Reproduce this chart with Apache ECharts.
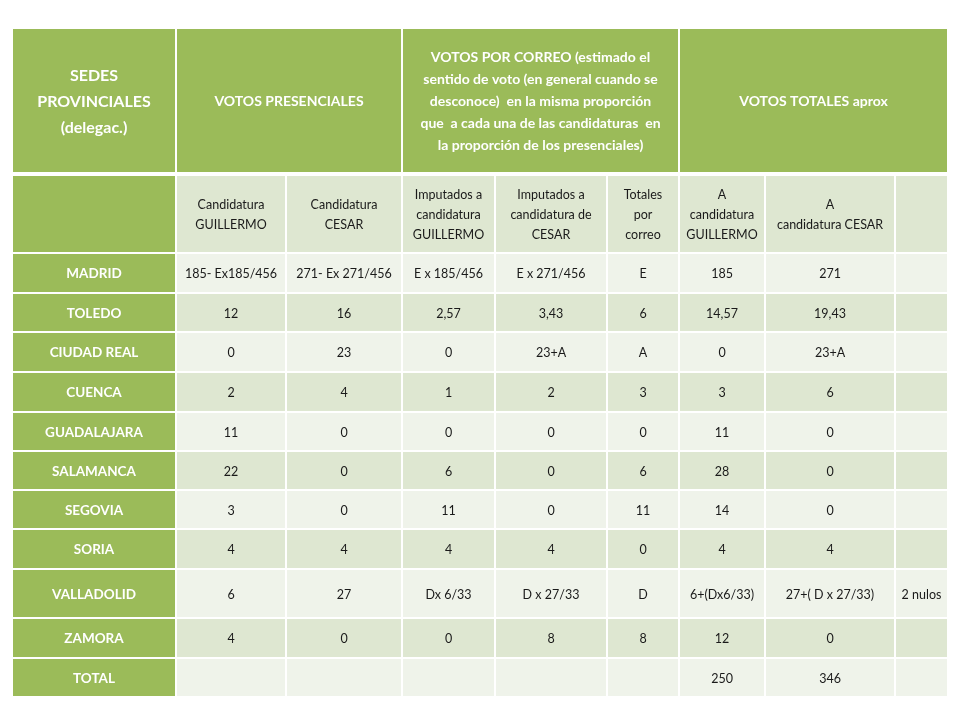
<!DOCTYPE html>
<html>
<head>
<meta charset="utf-8">
<title>Sedes provinciales</title>
<script src="https://cdn.jsdelivr.net/npm/echarts@6/dist/echarts.min.js"></script>
<style>
  html, body { margin: 0; padding: 0; background: #fff; }
  #chart { width: 960px; height: 720px; }
</style>
</head>
<body>
<div id="chart"></div>
<script>
// table contents
const provincias = ['MADRID', 'TOLEDO', 'CIUDAD REAL', 'CUENCA', 'GUADALAJARA', 'SALAMANCA',
  'SEGOVIA', 'SORIA', 'VALLADOLID', 'ZAMORA', 'TOTAL']
const presGuillermo = ['185- Ex185/456', '12', '0', '2', '11', '22', '3', '4', '6', '4', '']
const presCesar = ['271- Ex 271/456', '16', '23', '4', '0', '0', '0', '4', '27', '0', '']
const correoGuillermo = ['E x 185/456', '2,57', '0', '1', '0', '6', '11', '4', 'Dx 6/33', '0', '']
const correoCesar = ['E x 271/456', '3,43', '23+A', '2', '0', '0', '0', '4', 'D x 27/33', '8', '']
const correoTotal = ['E', '6', 'A', '3', '0', '6', '11', '0', 'D', '8', '']
const totalGuillermo = ['185', '14,57', '0', '3', '11', '28', '14', '4', '6+(Dx6/33)', '12', '250']
const totalCesar = ['271', '19,43', '23+A', '6', '0', '0', '0', '4', '27+( D x 27/33)', '0', '346']
const notas = ['', '', '', '', '', '', '', '', '2 nulos', '', '']

const groupHeaders = [
  { text: 'SEDES\nPROVINCIALES\n(delegac.)', from: 0, to: 1 },
  { text: 'VOTOS PRESENCIALES', from: 1, to: 3 },
  { text: 'VOTOS POR CORREO (estimado el\nsentido de voto (en general cuando se\ndesconoce)  en la misma proporción\nque  a cada una de las candidaturas  en\nla proporción de los presenciales)', from: 3, to: 6 },
  { text: 'VOTOS TOTALES aprox', from: 6, to: 9 },
]
const subHeaders = ['', 'Candidatura\nGUILLERMO', 'Candidatura\nCESAR', 'Imputados a\ncandidatura\nGUILLERMO',
  'Imputados a\ncandidatura de\nCESAR', 'Totales\npor\ncorreo', 'A\ncandidatura\nGUILLERMO', 'A\ncandidatura CESAR', '']

// layout
const colWidths = [164, 110, 116, 93, 112, 72, 86, 130, 53]
const rowHeights = [147, 78, 40, 39, 40, 40, 39, 39, 39, 40, 49, 40, 39]
const colEdges = colWidths.reduce((a, w) => a.concat(a[a.length - 1] + w), [0])
const rowEdges = rowHeights.reduce((a, h) => a.concat(a[a.length - 1] + h), [0])

const GREEN = '#9bbb59'
const DARK = '#dee7d1'
const LIGHT = '#eff3ea'
const FONT = 'Lato, "Open Sans", sans-serif'

const bodyColumns = [presGuillermo, presCesar, correoGuillermo, correoCesar, correoTotal,
  totalGuillermo, totalCesar, notas]

const cells = []
groupHeaders.forEach((g, i) => {
  cells.push({ value: [g.from, g.to, 0, 1], text: g.text, kind: i === 0 ? 'title' : 'group' })
})
subHeaders.forEach((t, c) => {
  cells.push({ value: [c, c + 1, 1, 2], text: t, kind: c === 0 ? 'rowhead' : 'dark' })
})
provincias.forEach((p, i) => {
  const r = i + 2
  cells.push({ value: [0, 1, r, r + 1], text: p, kind: 'rowhead' })
  bodyColumns.forEach((col, j) => {
    cells.push({ value: [j + 1, j + 2, r, r + 1], text: col[i], kind: i % 2 === 0 ? 'light' : 'dark' })
  })
})

function renderItem(params, api) {
  const cell = cells[params.dataIndex]
  const [c0, c1, r0, r1] = cell.value
  const p0 = api.coord([colEdges[c0], rowEdges[r0]])
  const p1 = api.coord([colEdges[c1], rowEdges[r1]])
  const x = p0[0] + 1
  const y = p0[1] + 1
  const w = p1[0] - p0[0] - 2
  let h = p1[1] - p0[1] - 2
  if (r0 === 0) h -= 2

  const fill = cell.kind === 'light' ? LIGHT : cell.kind === 'dark' ? DARK : GREEN
  let textStyle = { fill: '#1a1a1a', fontSize: 12.5, fontFamily: FONT, lineHeight: 20 }
  if (cell.kind === 'title') {
    textStyle = { fill: '#fff', fontSize: 16, fontWeight: 'bold', fontFamily: FONT, lineHeight: 26 }
  } else if (cell.kind === 'group') {
    textStyle = { fill: '#fff', fontSize: 14, fontWeight: 'bold', fontFamily: FONT, lineHeight: 22 }
  } else if (cell.kind === 'rowhead') {
    textStyle = { fill: '#fff', fontSize: 13.5, fontWeight: 'bold', fontFamily: FONT, lineHeight: 20 }
  }

  return {
    type: 'group',
    children: [
      { type: 'rect', shape: { x, y, width: w, height: h }, style: { fill } },
      {
        type: 'text',
        style: Object.assign({
          text: cell.text,
          x: x + w / 2,
          y: y + h / 2 + 1,
          align: 'center',
          verticalAlign: 'middle',
        }, textStyle),
      },
    ],
  }
}

const chart = echarts.init(document.getElementById('chart'))
chart.setOption({
  animation: false,
  backgroundColor: '#fff',
  grid: { left: 12, top: 28, width: 936, height: 669 },
  xAxis: { type: 'value', min: 0, max: colEdges[colEdges.length - 1], show: false },
  yAxis: { type: 'value', min: 0, max: rowEdges[rowEdges.length - 1], inverse: true, show: false },
  series: [{
    type: 'custom',
    renderItem,
    data: cells,
    encode: { x: [0, 1], y: [2, 3] },
    silent: true,
  }],
})
</script>
</body>
</html>
